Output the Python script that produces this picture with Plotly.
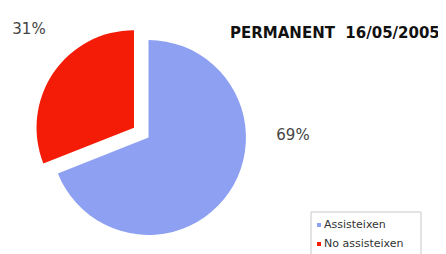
import plotly.graph_objects as go

labels = ["Assisteixen", "No assisteixen"]
values = [69, 31]
colors = ["#8da0f2", "#f41c06"]
pulls = [0, 0.18]
title_text = "PERMANENT  16/05/2005"

W, H = 446, 254
OFF = 8  # page body margin of the html page
fx = lambda p: p - OFF          # page pixel -> figure pixel
px = lambda p: fx(p) / W         # page pixel -> paper fraction
py = lambda p: 1 - fx(p) / H

fig = go.Figure()
fig.add_trace(go.Pie(
    labels=labels, values=values, sort=False, direction="clockwise", rotation=0,
    pull=pulls, marker=dict(colors=colors, line=dict(width=0)),
    textinfo="none", hoverinfo="label+percent", showlegend=False,
    domain=dict(x=[px(33.5), px(263.5)], y=[py(252.5), py(22.5)]),
))

total = sum(values)
pct_pos = [(293, 136), (29, 30.5)]
fig.add_trace(go.Scatter(
    x=[fx(p[0]) for p in pct_pos], y=[fx(p[1]) for p in pct_pos],
    mode="text", text=[f"{round(100*v/total)}%" for v in values],
    textposition="middle center", hoverinfo="skip",
    textfont=dict(family="DejaVu Sans", size=15, color="#444444"),
))
fig.add_trace(go.Scatter(
    x=[fx(230)], y=[fx(34)], mode="text", text=[f"<b>{title_text}</b>"],
    textposition="middle right", hoverinfo="skip",
    textfont=dict(family="DejaVu Sans", size=15, color="#111111"),
))

# legend box
fig.add_shape(type="rect", xref="paper", yref="paper",
              x0=px(311), x1=px(421), y0=py(262), y1=py(212),
              line=dict(color="#c8c8c8", width=1), fillcolor="white", layer="below")
leg_y = [225, 244]
for yc, col in zip(leg_y, colors):
    fig.add_shape(type="rect", xref="paper", yref="paper",
                  x0=px(317), x1=px(321), y0=py(yc + 2), y1=py(yc - 2),
                  line=dict(width=0), fillcolor=col)
fig.add_trace(go.Scatter(
    x=[fx(324)] * len(labels), y=[fx(y) for y in leg_y], mode="text", text=labels,
    textposition="middle right", hoverinfo="skip",
    textfont=dict(family="DejaVu Sans", size=11, color="#333333"),
))

fig.update_layout(
    width=W, height=H, margin=dict(l=0, r=0, t=0, b=0, autoexpand=False),
    paper_bgcolor="white", plot_bgcolor="rgba(0,0,0,0)", showlegend=False,
    xaxis=dict(visible=False, range=[0, W], domain=[0, 1], fixedrange=True),
    yaxis=dict(visible=False, range=[H, 0], domain=[0, 1], fixedrange=True),
)
fig.write_html("out.html")
